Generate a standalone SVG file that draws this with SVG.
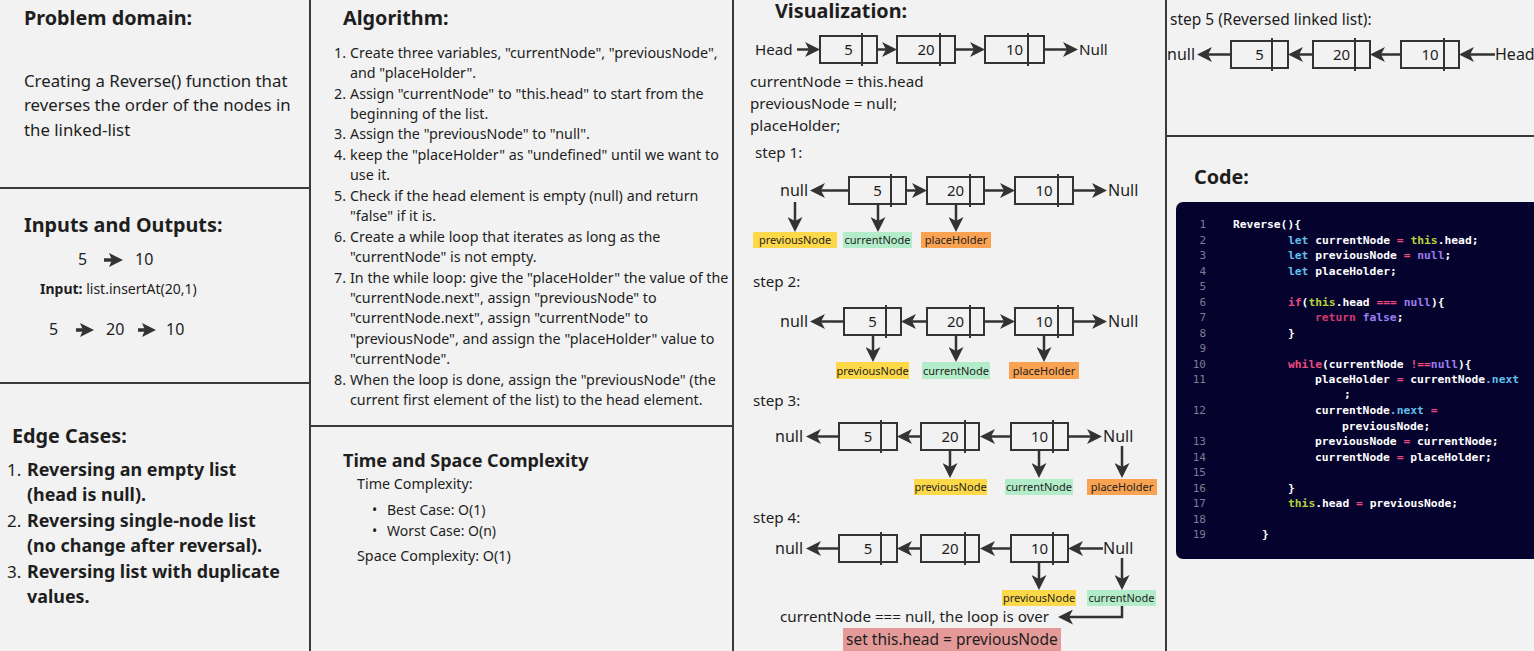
<svg xmlns="http://www.w3.org/2000/svg" width="1534" height="651" viewBox="0 0 1534 651">
<style>
text{font-family:"Noto Sans","Open Sans","Liberation Sans",sans-serif;fill:#1e1e1e}
.h{font-size:19.8px;font-weight:bold}
.p{font-size:16.8px}
.al{font-size:14.3px}
.v{font-size:15.2px}
.n{font-size:15px;text-anchor:middle}
.lb{font-size:11px;text-anchor:middle}
.b16{font-size:17.9px;font-weight:bold}
.e16{font-size:17px}
.sep{stroke:#3a3a3a;stroke-width:2;fill:none}
.box{fill:none;stroke:#333;stroke-width:2}
.a{fill:none;stroke:#333;stroke-width:2.5;marker-end:url(#ah)}
.a2{fill:none;stroke:#333;stroke-width:3.5;marker-end:url(#ah2)}
.c{font-family:"DejaVu Sans Mono","Liberation Mono",monospace;font-size:11.3px;font-weight:bold;fill:#ffffff}
.ln{font-family:"DejaVu Sans Mono","Liberation Mono",monospace;font-size:11px;fill:#7c7c92;text-anchor:end}
.kb{fill:#62bfe8}.kp{fill:#ea4a7e}.kg{fill:#b3d23c}.ku{fill:#9d7df0}.kr{fill:#d23a6c}
.yel{fill:#fdd94a}.grn{fill:#b3ecc8}.org{fill:#f9a352}
</style>
<defs>
<marker id="ah" viewBox="0 0 15 15" markerWidth="15" markerHeight="15" refX="5" refY="7.5" orient="auto" markerUnits="userSpaceOnUse"><path d="M0,0 L15,7.5 L0,15 L4,7.5 Z" fill="#333"/></marker>
<marker id="ah2" viewBox="0 0 14 14" markerWidth="14" markerHeight="14" refX="4" refY="7" orient="auto" markerUnits="userSpaceOnUse"><path d="M0,0 L14,7 L0,14 L3,7 Z" fill="#333"/></marker>
</defs>
<rect x="0" y="0" width="1534" height="651" fill="#f2f2f2"/>

<g id="separators">
<line class="sep" x1="310" y1="0" x2="310" y2="651"/>
<line class="sep" x1="733" y1="0" x2="733" y2="651"/>
<line class="sep" x1="1166" y1="0" x2="1166" y2="651"/>
<line class="sep" x1="0" y1="188" x2="310" y2="188"/>
<line class="sep" x1="0" y1="383" x2="310" y2="383"/>
<line class="sep" x1="310" y1="426" x2="733" y2="426"/>
<line class="sep" x1="1166" y1="136" x2="1534" y2="136"/>
</g>

<g id="problem-domain">
<text class="h" x="24" y="25">Problem domain:</text>
<text class="p" x="24" y="87">Creating a Reverse() function that</text>
<text class="p" x="24" y="111">reverses the order of the nodes in</text>
<text class="p" x="24" y="136">the linked-list</text>
</g>

<g id="inputs-outputs">
<text class="h" x="24" y="232">Inputs and Outputs:</text>
<text style="font-size:16px" x="78" y="265">5</text>
<text style="font-size:16px" x="135" y="265">10</text>
<text style="font-size:14px" x="40" y="294"><tspan font-weight="bold">Input:</tspan> list.insertAt(20,1)</text>
<text style="font-size:16px" x="49" y="335">5</text>
<text style="font-size:16px" x="106" y="335">20</text>
<text style="font-size:16px" x="166" y="335">10</text>
</g>

<g id="edge-cases">
<text class="h" x="12" y="443">Edge Cases:</text>
<text class="e16" x="7" y="476">1.</text>
<text class="b16" x="27" y="476">Reversing an empty list</text>
<text class="b16" x="27" y="501">(head is null).</text>
<text class="e16" x="7" y="527">2.</text>
<text class="b16" x="27" y="527">Reversing single-node list</text>
<text class="b16" x="27" y="552">(no change after reversal).</text>
<text class="e16" x="7" y="578">3.</text>
<text class="b16" x="27" y="578">Reversing list with duplicate</text>
<text class="b16" x="27" y="603">values.</text>
</g>

<g id="algorithm">
<text class="h" x="343" y="25">Algorithm:</text>
<text class="al" x="334" y="58">1.</text>
<text class="al" x="350" y="58">Create three variables, "currentNode", "previousNode",</text>
<text class="al" x="350" y="78">and "placeHolder".</text>
<text class="al" x="334" y="99">2.</text>
<text class="al" x="350" y="99">Assign "currentNode" to "this.head" to start from the</text>
<text class="al" x="350" y="119">beginning of the list.</text>
<text class="al" x="334" y="139">3.</text>
<text class="al" x="350" y="139">Assign the "previousNode" to "null".</text>
<text class="al" x="334" y="160">4.</text>
<text class="al" x="350" y="160">keep the "placeHolder" as "undefined" until we want to</text>
<text class="al" x="350" y="180">use it.</text>
<text class="al" x="334" y="201">5.</text>
<text class="al" x="350" y="201">Check if the head element is empty (null) and return</text>
<text class="al" x="350" y="221">"false" if it is.</text>
<text class="al" x="334" y="242">6.</text>
<text class="al" x="350" y="242">Create a while loop that iterates as long as the</text>
<text class="al" x="350" y="262">"currentNode" is not empty.</text>
<text class="al" x="334" y="283">7.</text>
<text class="al" x="350" y="283">In the while loop: give the "placeHolder" the value of the</text>
<text class="al" x="350" y="303">"currentNode.next", assign "previousNode" to</text>
<text class="al" x="350" y="323">"currentNode.next", assign "currentNode" to</text>
<text class="al" x="350" y="344">"previousNode", and assign the "placeHolder" value to</text>
<text class="al" x="350" y="364">"currentNode".</text>
<text class="al" x="334" y="385">8.</text>
<text class="al" x="350" y="385">When the loop is done, assign the "previousNode" (the</text>
<text class="al" x="350" y="405">current first element of the list) to the head element.</text>
</g>

<g id="complexity">
<text x="343" y="467" style="font-size:18px;font-weight:bold">Time and Space Complexity</text>
<text class="al" x="357" y="489">Time Complexity:</text>
<text style="font-size:14px" x="372" y="515">•</text>
<text style="font-size:14px" x="387" y="515">Best Case: O(1)</text>
<text style="font-size:14px" x="372" y="536">•</text>
<text style="font-size:14px" x="387" y="536">Worst Case: O(n)</text>
<text class="al" x="357" y="561">Space Complexity: O(1)</text>
</g>

<g id="visualization">
<text class="h" x="775" y="18">Visualization:</text>
<text class="v" x="755" y="55">Head</text>
<text class="v" x="1079" y="55">Null</text>
<text class="v" x="750" y="87">currentNode = this.head</text>
<text class="v" x="750" y="109">previousNode = null;</text>
<text class="v" x="750" y="131">placeHolder;</text>
</g>

<g id="row0-nodes">
<rect class="box" x="820" y="36" width="57" height="27"/><line class="box" x1="862" y1="33" x2="862" y2="66"/><text class="n" x="848.5" y="55">5</text>
<rect class="box" x="897" y="36" width="58" height="27"/><line class="box" x1="940" y1="33" x2="940" y2="66"/><text class="n" x="926" y="55">20</text>
<rect class="box" x="985" y="36" width="59" height="27"/><line class="box" x1="1028" y1="33" x2="1028" y2="66"/><text class="n" x="1014.5" y="55">10</text>
</g>

<g id="step1">
<text class="v" x="755" y="158">step 1:</text>
<text style="font-size:16px" x="780" y="196">null</text>
<text style="font-size:16px" x="1108" y="196">Null</text>
<rect class="box" x="849" y="177" width="57" height="27"/><line class="box" x1="891" y1="174" x2="891" y2="207"/><text class="n" x="877.5" y="196">5</text>
<rect class="box" x="927" y="177" width="57" height="27"/><line class="box" x1="970" y1="174" x2="970" y2="207"/><text class="n" x="955.5" y="196">20</text>
<rect class="box" x="1015" y="177" width="58" height="27"/><line class="box" x1="1058" y1="174" x2="1058" y2="207"/><text class="n" x="1044" y="196">10</text>
<rect class="yel" x="753" y="232" width="84" height="16"/><text class="lb" x="795" y="244">previousNode</text>
<rect class="grn" x="843" y="232" width="69" height="16"/><text class="lb" x="877.5" y="244">currentNode</text>
<rect class="org" x="921" y="232" width="70" height="16"/><text class="lb" x="956" y="244">placeHolder</text>
</g>

<g id="step2">
<text class="v" x="753" y="287">step 2:</text>
<text style="font-size:16px" x="780" y="327">null</text>
<text style="font-size:16px" x="1108" y="327">Null</text>
<rect class="box" x="844" y="308" width="57" height="27"/><line class="box" x1="886" y1="305" x2="886" y2="338"/><text class="n" x="872.5" y="327">5</text>
<rect class="box" x="927" y="308" width="57" height="27"/><line class="box" x1="970" y1="305" x2="970" y2="338"/><text class="n" x="955.5" y="327">20</text>
<rect class="box" x="1015" y="308" width="58" height="27"/><line class="box" x1="1058" y1="305" x2="1058" y2="338"/><text class="n" x="1044" y="327">10</text>
<rect class="yel" x="836" y="362" width="73" height="17"/><text class="lb" x="872.5" y="375">previousNode</text>
<rect class="grn" x="922" y="362" width="68" height="17"/><text class="lb" x="956" y="375">currentNode</text>
<rect class="org" x="1009" y="362" width="70" height="17"/><text class="lb" x="1044" y="375">placeHolder</text>
</g>

<g id="step3">
<text class="v" x="753" y="406">step 3:</text>
<text style="font-size:16px" x="775" y="442">null</text>
<text style="font-size:16px" x="1103" y="442">Null</text>
<rect class="box" x="839" y="423" width="58" height="27"/><line class="box" x1="881" y1="420" x2="881" y2="453"/><text class="n" x="868" y="442">5</text>
<rect class="box" x="921" y="423" width="58" height="27"/><line class="box" x1="965" y1="420" x2="965" y2="453"/><text class="n" x="950" y="442">20</text>
<rect class="box" x="1011" y="423" width="57" height="27"/><line class="box" x1="1053" y1="420" x2="1053" y2="453"/><text class="n" x="1039.5" y="442">10</text>
<rect class="yel" x="914" y="479" width="73" height="16"/><text class="lb" x="950.5" y="491">previousNode</text>
<rect class="grn" x="1005" y="479" width="68" height="16"/><text class="lb" x="1039" y="491">currentNode</text>
<rect class="org" x="1087" y="479" width="70" height="16"/><text class="lb" x="1122" y="491">placeHolder</text>
</g>

<g id="step4">
<text class="v" x="753" y="523">step 4:</text>
<text style="font-size:16px" x="775" y="554">null</text>
<text style="font-size:16px" x="1103" y="554">Null</text>
<rect class="box" x="839" y="535" width="58" height="27"/><line class="box" x1="881" y1="532" x2="881" y2="565"/><text class="n" x="868" y="554">5</text>
<rect class="box" x="921" y="535" width="58" height="27"/><line class="box" x1="965" y1="532" x2="965" y2="565"/><text class="n" x="950" y="554">20</text>
<rect class="box" x="1011" y="535" width="57" height="27"/><line class="box" x1="1053" y1="532" x2="1053" y2="565"/><text class="n" x="1039.5" y="554">10</text>
<rect class="yel" x="1002" y="590" width="74" height="16"/><text class="lb" x="1039" y="602">previousNode</text>
<rect class="grn" x="1087" y="590" width="69" height="16"/><text class="lb" x="1121.5" y="602">currentNode</text>
<text class="v" x="780" y="622">currentNode === null, the loop is over</text>
<rect x="843" y="628" width="218" height="23" fill="#e39a99"/>
<text style="font-size:15.5px" x="846" y="645">set this.head = previousNode</text>
</g>

<g id="step5">
<text style="font-size:15.5px" x="1170" y="25">step 5 (Reversed linked list):</text>
<text style="font-size:16px" x="1167" y="60">null</text>
<text style="font-size:16px" x="1495" y="60">Head</text>
<rect class="box" x="1231" y="41" width="57" height="27"/><line class="box" x1="1272" y1="38" x2="1272" y2="71"/><text class="n" x="1259.5" y="60">5</text>
<rect class="box" x="1313" y="41" width="57" height="27"/><line class="box" x1="1355" y1="38" x2="1355" y2="71"/><text class="n" x="1341.5" y="60">20</text>
<rect class="box" x="1401" y="41" width="58" height="27"/><line class="box" x1="1444" y1="38" x2="1444" y2="71"/><text class="n" x="1430" y="60">10</text>
</g>

<g id="code">
<text class="h" x="1194" y="184">Code:</text>
<rect x="1176" y="202" width="372" height="357" rx="7" fill="#05032e"/>
<text class="ln" x="1206" y="228">1</text>
<text class="ln" x="1206" y="244">2</text>
<text class="ln" x="1206" y="259">3</text>
<text class="ln" x="1206" y="275">4</text>
<text class="ln" x="1206" y="290">5</text>
<text class="ln" x="1206" y="306">6</text>
<text class="ln" x="1206" y="321">7</text>
<text class="ln" x="1206" y="337">8</text>
<text class="ln" x="1206" y="352">9</text>
<text class="ln" x="1206" y="368">10</text>
<text class="ln" x="1206" y="383">11</text>
<text class="ln" x="1206" y="414">12</text>
<text class="ln" x="1206" y="445">13</text>
<text class="ln" x="1206" y="461">14</text>
<text class="ln" x="1206" y="476">15</text>
<text class="ln" x="1206" y="492">16</text>
<text class="ln" x="1206" y="507">17</text>
<text class="ln" x="1206" y="523">18</text>
<text class="ln" x="1206" y="538">19</text>
<text class="c" x="1233" y="228">Reverse(){</text>
<text class="c" x="1288" y="244" xml:space="preserve"><tspan class="kb">let</tspan> currentNode <tspan class="kp">=</tspan> <tspan class="kg">this</tspan>.head;</text>
<text class="c" x="1288" y="259" xml:space="preserve"><tspan class="kb">let</tspan> previousNode <tspan class="kp">=</tspan> <tspan class="ku">null</tspan>;</text>
<text class="c" x="1288" y="275" xml:space="preserve"><tspan class="kb">let</tspan> placeHolder;</text>
<text class="c" x="1288" y="306" xml:space="preserve"><tspan class="kp">if</tspan>(<tspan class="kg">this</tspan>.head <tspan class="kp">===</tspan> <tspan class="ku">null</tspan>){</text>
<text class="c" x="1315" y="321" xml:space="preserve"><tspan class="kr">return</tspan> <tspan class="ku">false</tspan>;</text>
<text class="c" x="1288" y="337">}</text>
<text class="c" x="1288" y="368" xml:space="preserve"><tspan class="kp">while</tspan>(currentNode <tspan class="kp">!==</tspan><tspan class="ku">null</tspan>){</text>
<text class="c" x="1315" y="383" xml:space="preserve">placeHolder <tspan class="kp">=</tspan> currentNode<tspan class="kb">.next</tspan></text>
<text class="c" x="1344" y="398">;</text>
<text class="c" x="1315" y="414" xml:space="preserve">currentNode<tspan class="kb">.next</tspan> <tspan class="kp">=</tspan></text>
<text class="c" x="1342" y="430">previousNode;</text>
<text class="c" x="1315" y="445" xml:space="preserve">previousNode <tspan class="kp">=</tspan> currentNode;</text>
<text class="c" x="1315" y="461" xml:space="preserve">currentNode <tspan class="kp">=</tspan> placeHolder;</text>
<text class="c" x="1288" y="492">}</text>
<text class="c" x="1288" y="507" xml:space="preserve"><tspan class="kg">this</tspan>.head <tspan class="kp">=</tspan> previousNode;</text>
<text class="c" x="1262" y="538">}</text>
</g>

<g id="connectors">
<path class="a2" d="M104,260 H113"/>
<path class="a2" d="M76,330 H84"/>
<path class="a2" d="M138,330 H146"/>
<path class="a" d="M797,49.5 H810"/>
<path class="a" d="M878,49.5 H887"/>
<path class="a" d="M955,49.5 H975"/>
<path class="a" d="M1044,49.5 H1068"/>
<path class="a" d="M849,190.5 H820"/>
<path class="a" d="M906,190.5 H917"/>
<path class="a" d="M984,190.5 H1005"/>
<path class="a" d="M1073,190.5 H1097"/>
<path class="a" d="M795,202 V222"/>
<path class="a" d="M878,204 V222"/>
<path class="a" d="M956,204 V222"/>
<path class="a" d="M844,321.5 H820"/>
<path class="a" d="M927,321.5 H911"/>
<path class="a" d="M984,321.5 H1005"/>
<path class="a" d="M1073,321.5 H1097"/>
<path class="a" d="M873,335 V352"/>
<path class="a" d="M956,335 V352"/>
<path class="a" d="M1044,335 V352"/>
<path class="a" d="M839,436.5 H816"/>
<path class="a" d="M921,436.5 H907"/>
<path class="a" d="M1011,436.5 H990"/>
<path class="a" d="M1068,436.5 H1092"/>
<path class="a" d="M950,450 V468"/>
<path class="a" d="M1039,450 V468"/>
<path class="a" d="M1122,446 V468"/>
<path class="a" d="M839,548.5 H816"/>
<path class="a" d="M921,548.5 H907"/>
<path class="a" d="M1011,548.5 H990"/>
<path class="a" d="M1103,548.5 H1078"/>
<path class="a" d="M1039,562 V580"/>
<path class="a" d="M1122,558 V580"/>
<path class="a" d="M1122,606 V617 H1068"/>
<path class="a" d="M1231,54.5 H1207"/>
<path class="a" d="M1313,54.5 H1298"/>
<path class="a" d="M1401,54.5 H1380"/>
<path class="a" d="M1495,54.5 H1469"/>
</g>
</svg>
